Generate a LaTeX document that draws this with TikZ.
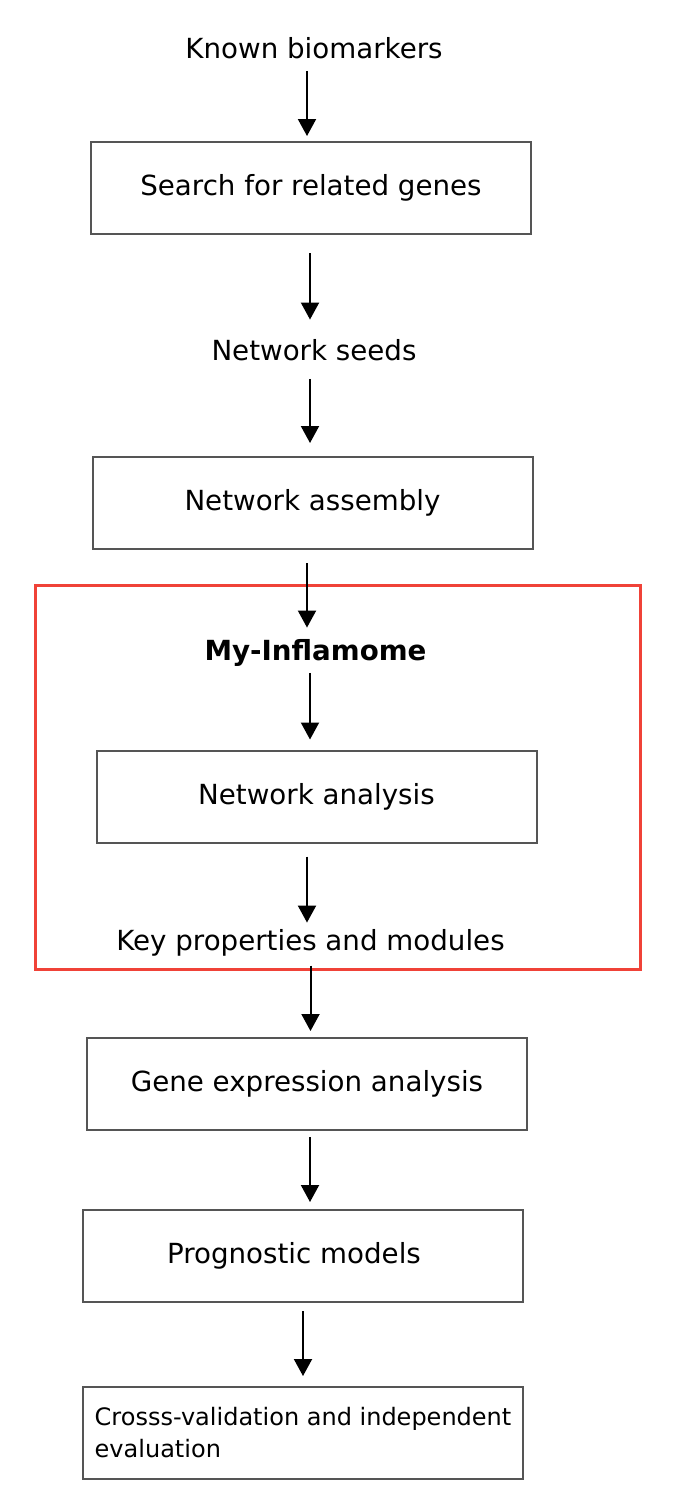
\documentclass[tikz,border=0pt]{standalone}
\usepackage{fontspec}
\setmainfont{DejaVu Sans}
\usetikzlibrary{arrows.meta}
\definecolor{framered}{RGB}{240,66,56}
\definecolor{boxgray}{RGB}{85,85,85}
\begin{document}
\begin{tikzpicture}[x=0.5pt, y=-0.5pt,
    every node/.style={font=\fontsize{13.85}{16}\selectfont, inner sep=0pt},
    stepbox/.style={draw=boxgray, line width=1pt, minimum width=220pt, minimum height=46pt},
    arr/.style={-{Triangle[length=8.5pt, width=9pt]}, line width=1pt}]
  \useasboundingbox (0,0) rectangle (682,1500);
  % pipeline nodes
  \node [anchor=base] (known) at (314,58) {Known biomarkers};
  \node [stepbox] (search) at (311,188) {Search for related genes};
  \node [anchor=base] (seeds) at (314,360) {Network seeds};
  \node [stepbox] (assembly) at (312.5,503) {Network assembly};
  \node [anchor=base, font=\fontsize{13.85}{16}\selectfont\bfseries] (inflamome) at (315.5,660) {My-Inflamome};
  \node [stepbox] (analysis) at (316.5,796.5) {Network analysis};
  \node [anchor=base] (modules) at (310.5,950) {Key properties and modules};
  \node [stepbox] (expression) at (307,1084) {Gene expression analysis};
  \node [stepbox] (prognostic) at (303,1256) {Prognostic models\kern9pt};
  \node [stepbox, align=left, font=\fontsize{12}{16}\selectfont] (validation) at (303,1433)
    {Crosss-validation and independent\\evaluation};
  % highlighted part
  \draw [framered, line width=1.5pt] (35,585) rectangle (640,969);
  % arrows
  \draw [arr, shorten <=6pt, shorten >=2.5pt] ([xshift=-3.5pt]known.south) -- ([xshift=-3.5pt]known.south |- search.north);
  \draw [arr, shorten <=9pt, shorten >=9.5pt] ([xshift=-0.5pt]search.south) -- ([xshift=-0.5pt]search.south |- seeds.north);
  \draw [arr, shorten <=9pt, shorten >=6.5pt] ([xshift=-2pt]seeds.south) -- ([xshift=-2pt]seeds.south |- assembly.north);
  \draw [arr, shorten <=6.5pt, shorten >=5.5pt] ([xshift=-2.75pt]assembly.south) -- ([xshift=-2.75pt]assembly.south |- inflamome.north);
  \draw [arr, shorten <=3.25pt, shorten >=5pt] ([xshift=-2.75pt]inflamome.south) -- ([xshift=-2.75pt]inflamome.south |- analysis.north);
  \draw [arr, shorten <=6.5pt, shorten >=3pt] ([xshift=-4.75pt]analysis.south) -- ([xshift=-4.75pt]analysis.south |- modules.north);
  \draw [arr, shorten <=4.75pt, shorten >=3pt] (modules.south) -- (modules.south |- expression.north);
  \draw [arr, shorten <=3pt, shorten >=3.5pt] ([xshift=1.5pt]expression.south) -- ([xshift=1.5pt]expression.south |- prognostic.north);
  \draw [arr, shorten <=4pt, shorten >=5pt] (prognostic.south) -- (prognostic.south |- validation.north);
\end{tikzpicture}
\end{document}
